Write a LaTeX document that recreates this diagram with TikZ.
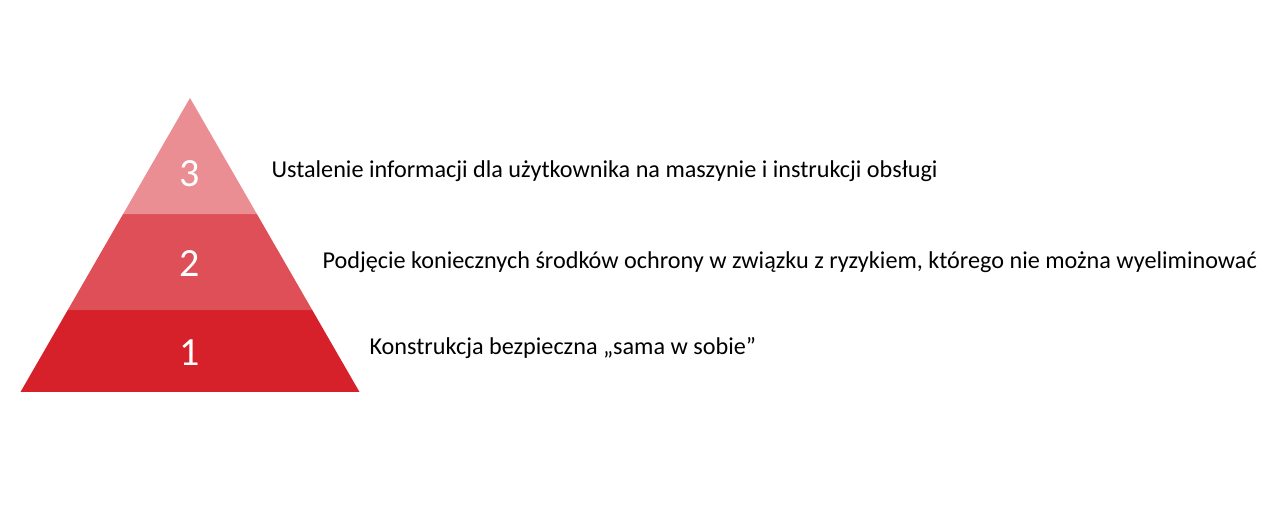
\documentclass[tikz,border=0pt]{standalone}
\usepackage{fontspec}
\setmainfont{Carlito}
\usetikzlibrary{calc}
\definecolor{warstwaA}{HTML}{D6202A}
\definecolor{warstwaB}{HTML}{DF4F57}
\definecolor{warstwaC}{HTML}{EA8E93}
\tikzset{
  liczba/.style={text=white, font=\fontsize{40}{40}\selectfont},
  opis/.style={anchor=west, font=\fontsize{24.2}{24.2}\selectfont}
}
\begin{document}
\begin{tikzpicture}[x=1pt, y=-1pt, line join=round]
  \useasboundingbox (0,0) rectangle (1280,526);
  \coordinate (szczyt) at (190,98);
  \coordinate (lewy) at (20.5,392);
  \coordinate (prawy) at (359.5,392);
  \fill[warstwaA] (lewy) -- (prawy) -- ($(szczyt)!0.7211!(prawy)$) -- ($(szczyt)!0.7211!(lewy)$) -- cycle;
  \fill[warstwaB] ($(szczyt)!0.7211!(lewy)$) -- ($(szczyt)!0.7211!(prawy)$) -- ($(szczyt)!0.3946!(prawy)$) -- ($(szczyt)!0.3946!(lewy)$) -- cycle;
  \fill[warstwaC] ($(szczyt)!0.3946!(lewy)$) -- ($(szczyt)!0.3946!(prawy)$) -- (szczyt) -- cycle;
  \node[liczba] (n3) at (190,174) {3};
  \node[liczba] (n2) at (190,264) {2};
  \node[liczba] (n1) at (190,353) {1};
  \node[opis] (t3) at (268,171) {Ustalenie informacji dla użytkownika na maszynie i instrukcji obsługi};
  \node[opis] (t2) at (319,262) {Podjęcie koniecznych środków ochrony w związku z ryzykiem, którego nie można wyeliminować};
  \node[opis] (t1) at (366,348) {Konstrukcja bezpieczna „sama w sobie”};
\end{tikzpicture}
\end{document}
